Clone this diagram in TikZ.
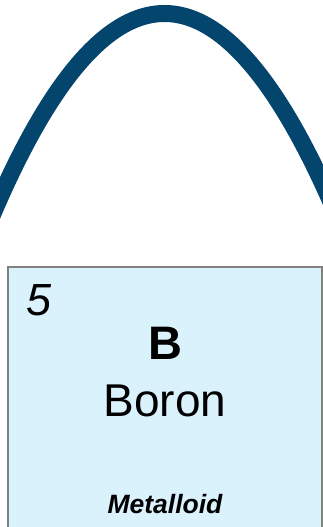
\documentclass[tikz,border=0pt]{standalone}
\usepackage{fontspec}
\setmainfont{Liberation Sans}
\definecolor{arcblue}{RGB}{4,69,110}
\definecolor{cellfill}{RGB}{218,242,252}
\definecolor{cellborder}{RGB}{128,128,128}
\tikzset{
  arcline/.style={draw=arcblue,line width=17pt},
  cellbox/.style={draw=cellborder,fill=cellfill,line width=2.5pt},
  celltext/.style={inner sep=0pt,anchor=base,text=black},
}
\begin{document}
\begin{tikzpicture}[x=1pt,y=-1pt]
\useasboundingbox (0,0) rectangle (323,527);
\clip (0,0) rectangle (323,527);
\fill[white] (0,0) rectangle (323,527);
\draw[arcline] (-40.5,299.3) .. controls (96.17,-81.77) and (232.83,-81.77) .. (369.5,299.3);
\draw[cellbox] (8,267) rectangle (322,560);
\node[celltext,anchor=base west] (num) at (26,315) {\fontsize{45}{50}\selectfont\itshape 5};
\node[celltext] (sym) at (165,359) {\fontsize{47}{50}\selectfont\bfseries B};
\node[celltext] (name) at (165,416.5) {\fontsize{46}{50}\selectfont Boron};
\node[celltext] (cat) at (165,513) {\fontsize{26.5}{30}\selectfont\bfseries\itshape Metalloid};
\end{tikzpicture}
\end{document}
